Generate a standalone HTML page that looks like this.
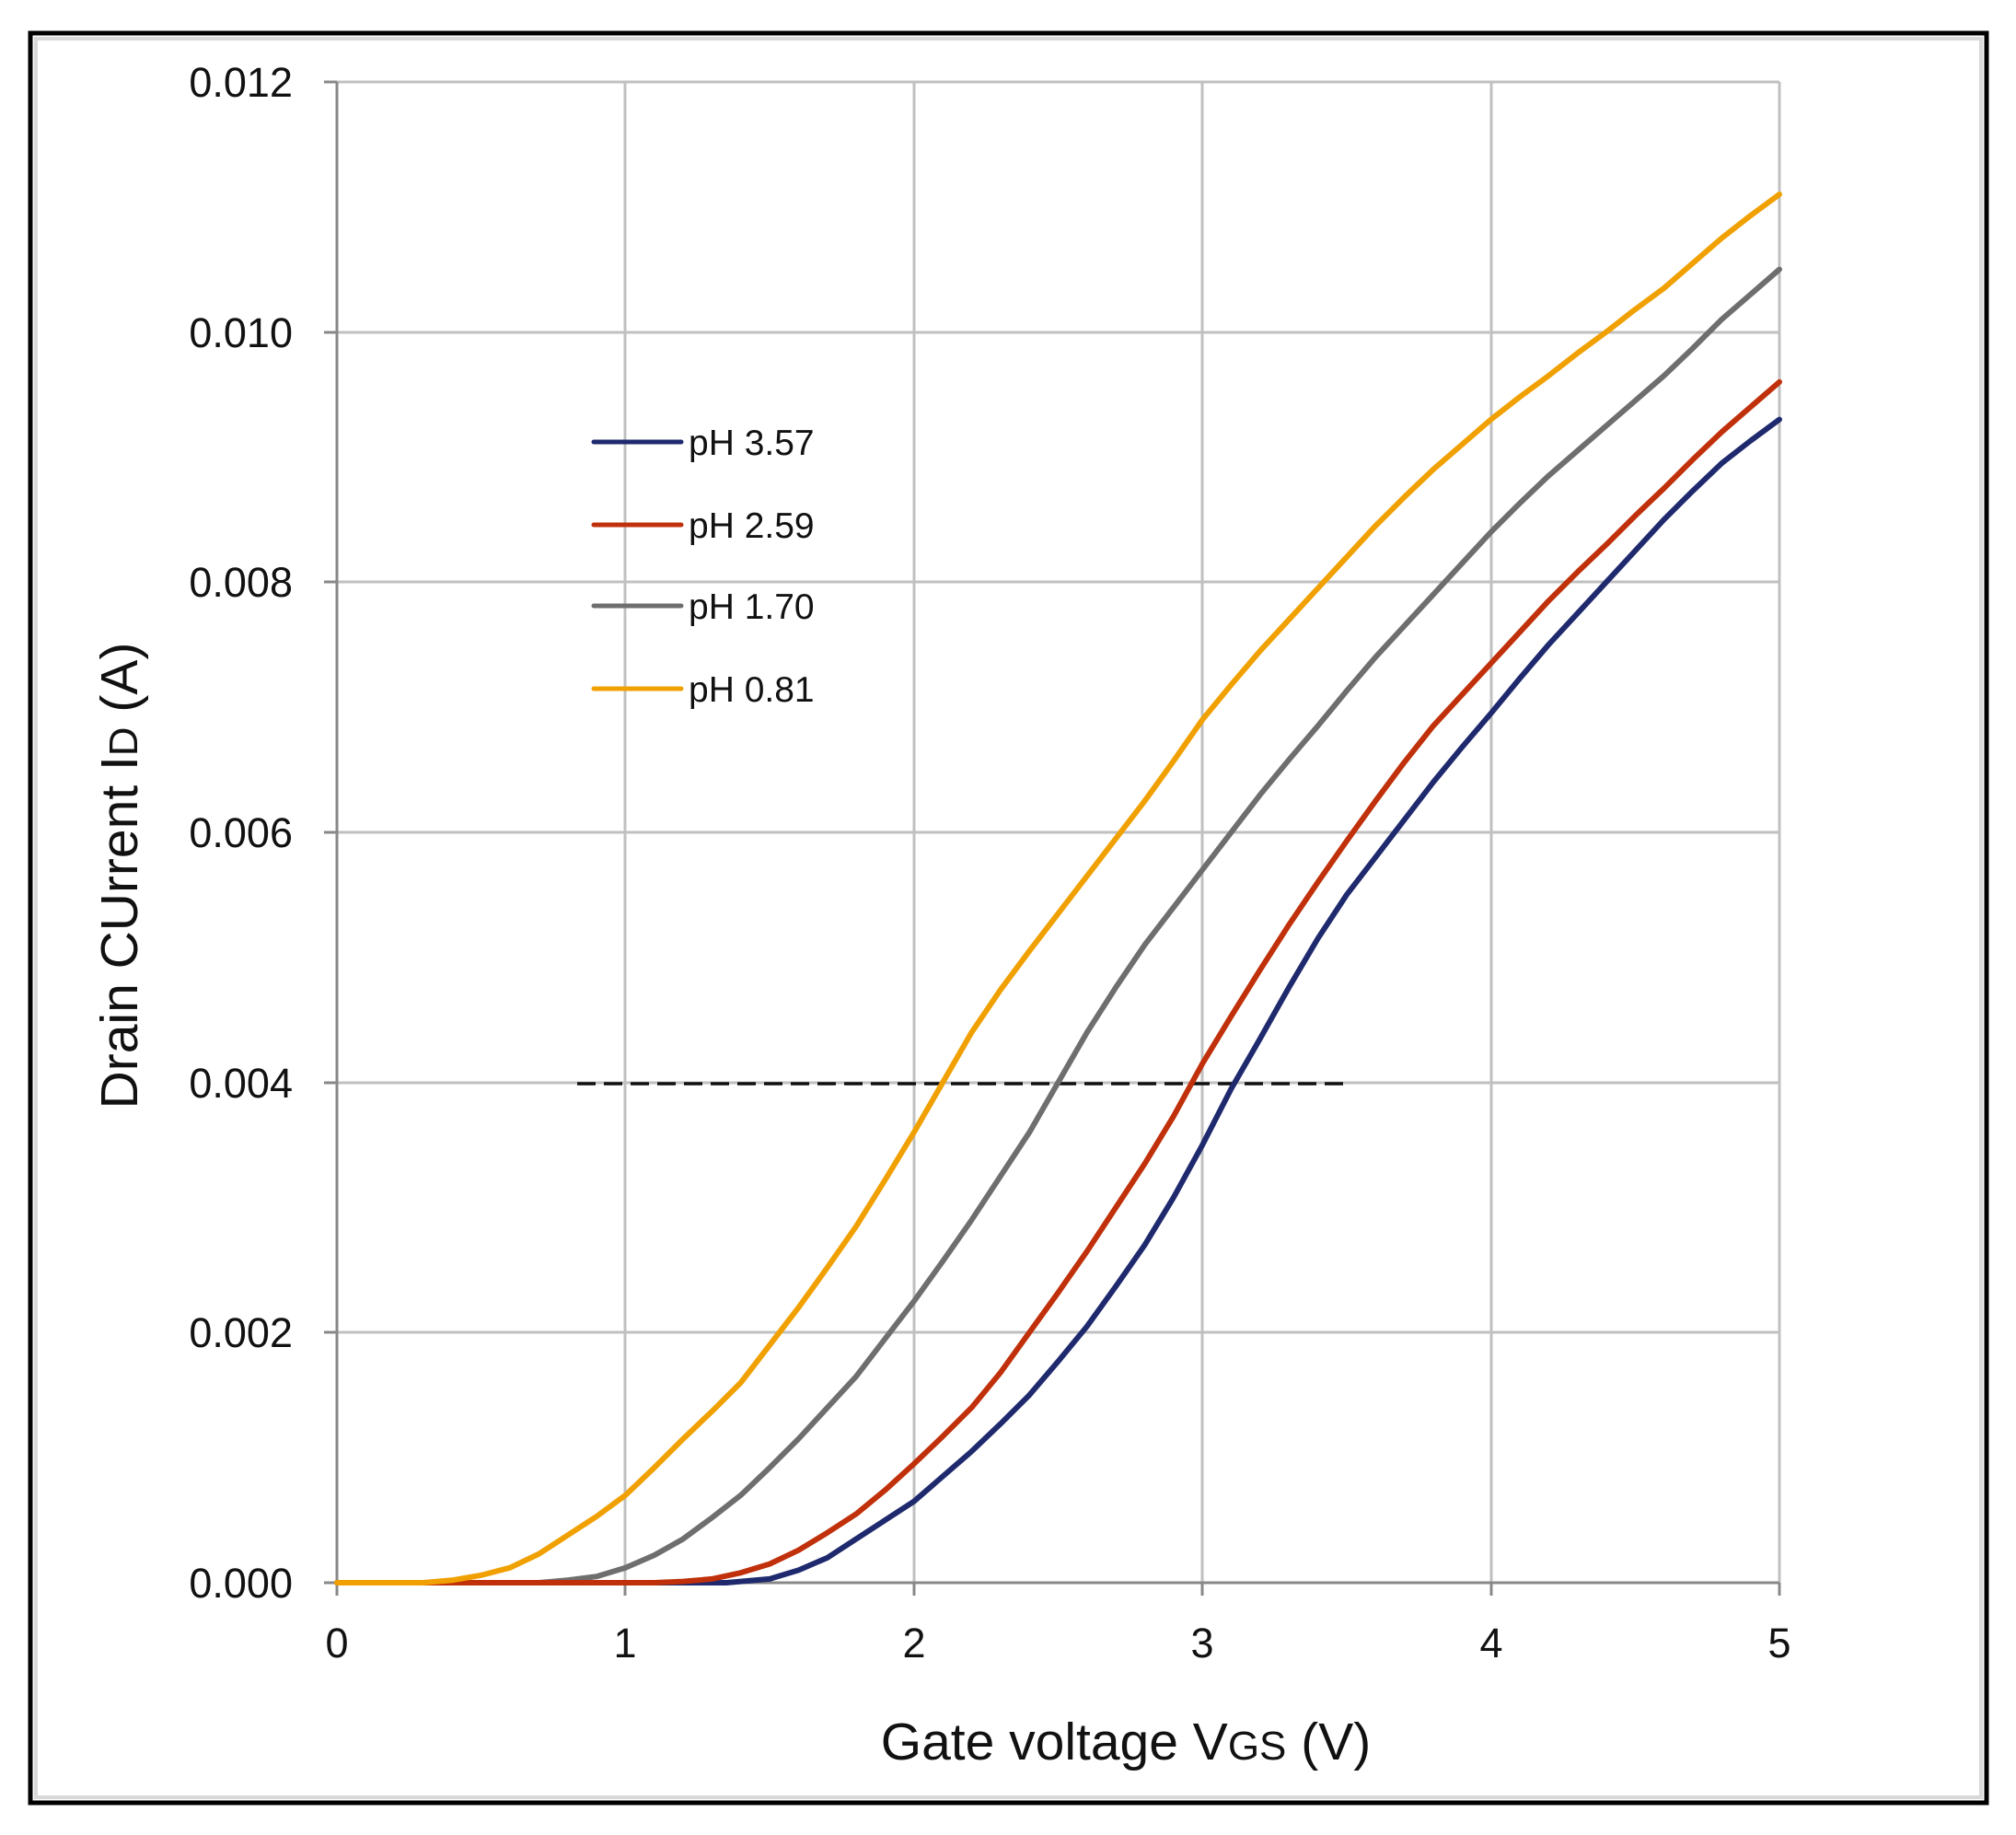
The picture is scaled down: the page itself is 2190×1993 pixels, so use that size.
<!DOCTYPE html>
<html><head><meta charset="utf-8"><style>
html,body{margin:0;padding:0;background:#fff;}
svg{display:block;}
text{font-family:"Liberation Sans",sans-serif;fill:#111;}
</style></head><body>
<svg width="2190" height="1993" viewBox="0 0 2190 1993" xmlns="http://www.w3.org/2000/svg">
<rect width="2190" height="1993" fill="#fff"/>
<rect x="33" y="36" width="2125" height="1922" fill="none" stroke="#000" stroke-width="5"/>
<rect x="39" y="42" width="2113" height="1910" fill="none" stroke="#d8d8d8" stroke-width="4"/>
<g stroke="#c0c0c0" stroke-width="3">
<line x1="366" y1="89" x2="1933" y2="89"/>
<line x1="366" y1="361" x2="1933" y2="361"/>
<line x1="366" y1="632" x2="1933" y2="632"/>
<line x1="366" y1="904" x2="1933" y2="904"/>
<line x1="366" y1="1176" x2="1933" y2="1176"/>
<line x1="366" y1="1447" x2="1933" y2="1447"/>
<line x1="679" y1="89" x2="679" y2="1719"/>
<line x1="993" y1="89" x2="993" y2="1719"/>
<line x1="1306" y1="89" x2="1306" y2="1719"/>
<line x1="1620" y1="89" x2="1620" y2="1719"/>
<line x1="1933" y1="89" x2="1933" y2="1719"/>
</g>
<g stroke="#888" stroke-width="3">
<line x1="366" y1="89" x2="366" y2="1733"/>
<line x1="352" y1="1719" x2="1933" y2="1719"/>
<line x1="352" y1="89" x2="366" y2="89"/><line x1="352" y1="361" x2="366" y2="361"/><line x1="352" y1="632" x2="366" y2="632"/><line x1="352" y1="904" x2="366" y2="904"/><line x1="352" y1="1176" x2="366" y2="1176"/><line x1="352" y1="1447" x2="366" y2="1447"/>
<line x1="679" y1="1719" x2="679" y2="1733"/><line x1="993" y1="1719" x2="993" y2="1733"/><line x1="1306" y1="1719" x2="1306" y2="1733"/><line x1="1620" y1="1719" x2="1620" y2="1733"/><line x1="1933" y1="1719" x2="1933" y2="1733"/>
</g>
<g font-size="45" text-anchor="end">
<text x="318" y="105">0.012</text><text x="318" y="377">0.010</text><text x="318" y="648">0.008</text><text x="318" y="920">0.006</text><text x="318" y="1192">0.004</text><text x="318" y="1463">0.002</text><text x="318" y="1735">0.000</text>
</g>
<g font-size="45" text-anchor="middle">
<text x="366" y="1800">0</text><text x="679" y="1800">1</text><text x="993" y="1800">2</text><text x="1306" y="1800">3</text><text x="1620" y="1800">4</text><text x="1933" y="1800">5</text>
</g>
<text x="1223" y="1911" font-size="57" text-anchor="middle">Gate voltage V<tspan font-size="44">GS</tspan> (V)</text>
<text transform="translate(149,951) rotate(-90)" font-size="57" text-anchor="middle">Drain CUrrent  I<tspan font-size="44">D</tspan> (A)</text>
<line x1="627" y1="1177" x2="1464" y2="1177" stroke="#111" stroke-width="3.5" stroke-dasharray="20,9"/>
<g fill="none" stroke-width="6" stroke-linejoin="round" stroke-linecap="round" transform="translate(366,1719) scale(313.4,-135.85)">
<polyline vector-effect="non-scaling-stroke" stroke="#6e6e6e" points="0,0 0.7,0 0.8,0.02 0.9,0.05 1,0.12 1.1,0.22 1.2,0.35 1.3,0.52 1.4,0.7 1.5,0.92 1.6,1.15 1.7,1.4 1.8,1.65 1.9,1.95 2,2.25 2.1,2.57 2.2,2.9 2.3,3.25 2.4,3.6 2.5,4 2.6,4.4 2.7,4.76 2.8,5.1 2.9,5.4 3,5.7 3.1,6 3.2,6.3 3.3,6.58 3.4,6.85 3.5,7.13 3.6,7.4 3.7,7.65 3.8,7.9 3.9,8.15 4,8.4 4.1,8.63 4.2,8.85 4.3,9.05 4.4,9.25 4.5,9.45 4.6,9.65 4.7,9.87 4.8,10.1 4.9,10.3 5,10.5"/>
<polyline vector-effect="non-scaling-stroke" stroke="#1f2a6e" points="0,0 1.35,0 1.5,0.03 1.6,0.1 1.7,0.2 1.8,0.35 1.9,0.5 2,0.65 2.1,0.85 2.2,1.05 2.3,1.27 2.4,1.5 2.5,1.77 2.6,2.05 2.7,2.37 2.8,2.7 2.9,3.08 3,3.5 3.1,3.95 3.2,4.35 3.3,4.76 3.4,5.15 3.5,5.5 3.6,5.8 3.7,6.1 3.8,6.4 3.9,6.68 4,6.95 4.1,7.23 4.2,7.5 4.3,7.75 4.4,8 4.5,8.25 4.6,8.5 4.7,8.73 4.8,8.95 4.9,9.13 5,9.3"/>
<polyline vector-effect="non-scaling-stroke" stroke="#c0300a" points="0,0 1.1,0 1.2,0.01 1.3,0.03 1.4,0.08 1.5,0.15 1.6,0.26 1.7,0.4 1.8,0.55 1.9,0.74 2,0.95 2.1,1.17 2.2,1.4 2.3,1.68 2.4,2 2.5,2.32 2.6,2.65 2.7,3 2.8,3.35 2.9,3.73 3,4.15 3.1,4.53 3.2,4.9 3.3,5.26 3.4,5.6 3.5,5.93 3.6,6.25 3.7,6.56 3.8,6.85 3.9,7.1 4,7.35 4.1,7.6 4.2,7.85 4.3,8.08 4.4,8.3 4.5,8.53 4.6,8.75 4.7,8.98 4.8,9.2 4.9,9.4 5,9.6"/>
<polyline vector-effect="non-scaling-stroke" stroke="#f0a000" points="0,0 0.3,0 0.4,0.02 0.5,0.06 0.6,0.12 0.7,0.23 0.8,0.38 0.9,0.53 1,0.7 1.1,0.92 1.2,1.15 1.3,1.37 1.4,1.6 1.5,1.9 1.6,2.2 1.7,2.52 1.8,2.85 1.9,3.22 2,3.6 2.1,4 2.2,4.4 2.3,4.74 2.4,5.05 2.5,5.35 2.6,5.65 2.7,5.95 2.8,6.25 2.9,6.57 3,6.9 3.1,7.18 3.2,7.45 3.3,7.7 3.4,7.95 3.5,8.2 3.6,8.45 3.7,8.68 3.8,8.9 3.9,9.1 4,9.3 4.1,9.48 4.2,9.65 4.3,9.83 4.4,10 4.5,10.18 4.6,10.35 4.7,10.55 4.8,10.75 4.9,10.93 5,11.1"/>
</g>
<g stroke-width="5" stroke-linecap="round">
<line x1="645" y1="480" x2="740" y2="480" stroke="#1f2a6e"/>
<line x1="645" y1="570" x2="740" y2="570" stroke="#c0300a"/>
<line x1="645" y1="658" x2="740" y2="658" stroke="#6e6e6e"/>
<line x1="645" y1="748" x2="740" y2="748" stroke="#f0a000"/>
</g>
<g font-size="39" fill="#222">
<text x="748" y="494">pH 3.57</text>
<text x="748" y="584">pH 2.59</text>
<text x="748" y="672">pH 1.70</text>
<text x="748" y="762">pH 0.81</text>
</g>
</svg>
</body></html>
